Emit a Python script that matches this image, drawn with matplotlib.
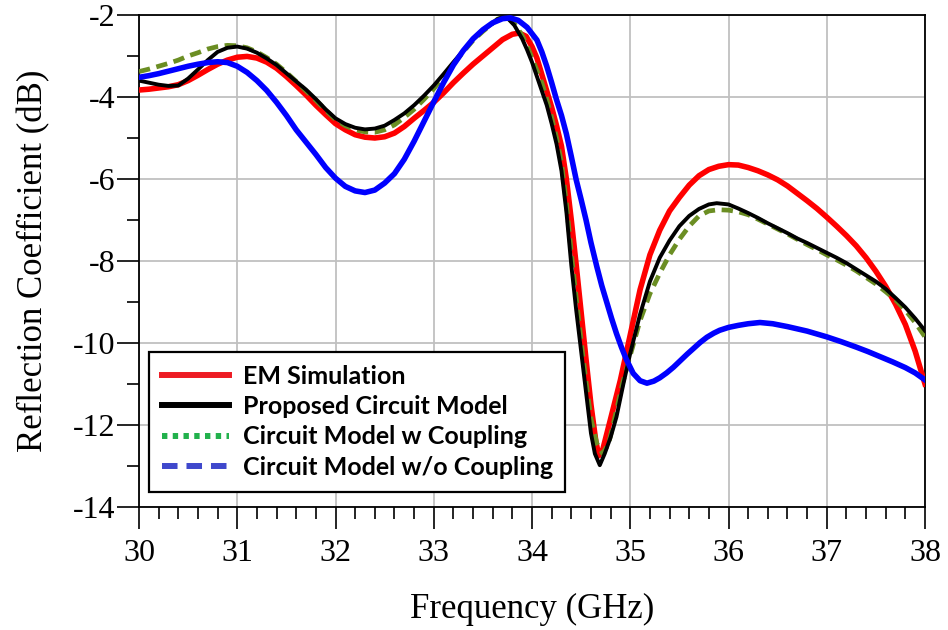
import matplotlib
matplotlib.use("Agg")
import matplotlib.pyplot as plt
from matplotlib.lines import Line2D
from matplotlib.ticker import MultipleLocator

# ---- data ----
em_f = [30.0, 30.1, 30.2, 30.3, 30.4, 30.5, 30.6, 30.7, 30.8, 30.9, 31.0, 31.1, 31.2, 31.3, 31.4,
        31.5, 31.6, 31.7, 31.8, 31.9, 32.0, 32.1, 32.2, 32.3, 32.4, 32.5, 32.6, 32.7, 32.8, 32.9,
        33.0, 33.1, 33.2, 33.3, 33.4, 33.5, 33.6, 33.7, 33.8, 33.87, 33.94, 34.0, 34.05, 34.1,
        34.15, 34.2, 34.25, 34.3, 34.35, 34.4, 34.45, 34.5, 34.55, 34.6, 34.65, 34.68, 34.72,
        34.8, 34.9, 35.0, 35.1, 35.2, 35.3, 35.4, 35.5, 35.6, 35.7, 35.8, 35.9, 36.0, 36.1, 36.2,
        36.3, 36.4, 36.5, 36.6, 36.7, 36.8, 36.9, 37.0, 37.1, 37.2, 37.3, 37.4, 37.5, 37.6, 37.7,
        37.8, 37.9, 38.0]
em_s = [-3.83, -3.81, -3.78, -3.75, -3.7, -3.6, -3.47, -3.33, -3.2, -3.1, -3.03, -3.01, -3.05, -3.15,
        -3.3, -3.5, -3.72, -3.95, -4.2, -4.43, -4.65, -4.8, -4.92, -4.98, -5.0, -4.97, -4.88, -4.72,
        -4.52, -4.33, -4.13, -3.9, -3.65, -3.42, -3.2, -3.0, -2.8, -2.6, -2.47, -2.44, -2.52, -2.77,
        -3.05, -3.45, -3.85, -4.25, -4.7, -5.2, -6.0, -7.0, -8.1, -9.25, -10.4, -11.5, -12.4, -12.75,
        -12.6, -11.85, -10.9, -9.8, -8.7, -7.85, -7.25, -6.78, -6.45, -6.15, -5.92, -5.77, -5.69,
        -5.65, -5.66, -5.72, -5.8, -5.9, -6.02, -6.17, -6.35, -6.53, -6.72, -6.93, -7.15, -7.38,
        -7.63, -7.92, -8.25, -8.62, -9.05, -9.55, -10.2, -11.0]

prop_f = [30.0, 30.1, 30.2, 30.3, 30.4, 30.5, 30.6, 30.7, 30.8, 30.9, 31.0, 31.1, 31.2, 31.3, 31.4,
          31.5, 31.6, 31.7, 31.8, 31.9, 32.0, 32.1, 32.2, 32.3, 32.4, 32.5, 32.6, 32.7, 32.8, 32.9,
          33.0, 33.1, 33.2, 33.3, 33.4, 33.5, 33.6, 33.65, 33.7, 33.76, 33.82, 33.9, 33.95, 34.0,
          34.05, 34.1, 34.15, 34.2, 34.25, 34.3, 34.35, 34.4, 34.45, 34.5, 34.55, 34.6, 34.64,
          34.69, 34.74, 34.8, 34.86, 34.93, 35.0, 35.1, 35.2, 35.3, 35.4, 35.5, 35.6, 35.7, 35.8,
          35.88, 36.0, 36.1, 36.2, 36.3, 36.4, 36.5, 36.6, 36.7, 36.8, 36.9, 37.0, 37.1, 37.2, 37.3,
          37.4, 37.5, 37.6, 37.7, 37.8, 37.9, 38.0]
prop_s = [-3.6, -3.65, -3.7, -3.73, -3.72, -3.55, -3.33, -3.1, -2.9, -2.8, -2.77, -2.82, -2.92, -3.06,
          -3.22, -3.42, -3.62, -3.82, -4.05, -4.3, -4.52, -4.66, -4.75, -4.79, -4.77, -4.7, -4.56,
          -4.4, -4.2, -3.97, -3.72, -3.44, -3.15, -2.87, -2.6, -2.38, -2.2, -2.1, -2.06, -2.1, -2.25,
          -2.58, -2.85, -3.15, -3.5, -3.85, -4.2, -4.65, -5.15, -5.8, -6.8, -8.1, -9.2, -10.2, -11.2,
          -12.2, -12.7, -12.98, -12.7, -12.3, -11.8, -11.0, -10.25, -9.3, -8.5, -7.92, -7.5, -7.15,
          -6.9, -6.73, -6.62, -6.59, -6.62, -6.72, -6.83, -6.95, -7.08, -7.2, -7.32, -7.45, -7.56,
          -7.68, -7.8, -7.92, -8.05, -8.2, -8.35, -8.5, -8.68, -8.9, -9.13, -9.4, -9.7]

wc_f = [30.0, 30.1, 30.2, 30.3, 30.4, 30.5, 30.6, 30.7, 30.8, 30.9, 31.0, 31.1, 31.2, 31.3, 31.4,
        31.5, 31.6, 31.7, 31.8, 31.9, 32.0, 32.1, 32.2, 32.3, 32.4, 32.5, 32.6, 32.7, 32.8, 32.9,
        33.0, 33.1, 33.2, 33.3, 33.4, 33.5, 33.6, 33.65, 33.7, 33.76, 33.82, 33.9, 33.95, 34.0,
        34.05, 34.1, 34.15, 34.2, 34.25, 34.3, 34.35, 34.4, 34.45, 34.5, 34.55, 34.6, 34.66,
        34.72, 34.78, 34.85, 34.92, 35.0, 35.1, 35.2, 35.3, 35.4, 35.5, 35.6, 35.7, 35.8, 35.9,
        36.0, 36.1, 36.2, 36.3, 36.4, 36.5, 36.6, 36.7, 36.8, 36.9, 37.0, 37.1, 37.2, 37.3, 37.4,
        37.5, 37.6, 37.7, 37.8, 37.9, 38.0]
wc_s = [-3.38, -3.32, -3.25, -3.18, -3.1, -3.0, -2.92, -2.83, -2.77, -2.74, -2.75, -2.8, -2.9, -3.04,
        -3.2, -3.4, -3.62, -3.85, -4.08, -4.32, -4.55, -4.7, -4.8, -4.85, -4.86, -4.8, -4.68, -4.5,
        -4.3, -4.06, -3.8, -3.5, -3.2, -2.9, -2.62, -2.4, -2.2, -2.1, -2.06, -2.08, -2.2, -2.5,
        -2.75, -3.05, -3.35, -3.65, -4.05, -4.5, -5.0, -5.6, -6.6, -7.8, -8.9, -9.95, -10.95,
        -11.85, -12.45, -12.7, -12.45, -11.75, -11.0, -10.3, -9.45, -8.8, -8.3, -7.85, -7.47,
        -7.15, -6.9, -6.78, -6.75, -6.76, -6.8, -6.87, -6.98, -7.1, -7.22, -7.34, -7.47, -7.6,
        -7.72, -7.85, -7.97, -8.1, -8.24, -8.4, -8.56, -8.75, -8.95, -9.2, -9.5, -9.85]

woc_f = [30.0, 30.1, 30.2, 30.3, 30.4, 30.5, 30.6, 30.7, 30.8, 30.9, 31.0, 31.1, 31.2, 31.3, 31.4,
         31.5, 31.6, 31.7, 31.8, 31.9, 32.0, 32.1, 32.2, 32.3, 32.4, 32.5, 32.6, 32.7, 32.8, 32.9,
         33.0, 33.1, 33.2, 33.3, 33.4, 33.5, 33.6, 33.7, 33.78, 33.86, 33.95, 34.05, 34.1, 34.15,
         34.2, 34.25, 34.3, 34.35, 34.4, 34.45, 34.5, 34.55, 34.6, 34.66, 34.71, 34.76, 34.81,
         34.86, 34.91, 34.96, 35.03, 35.1, 35.17, 35.24, 35.3, 35.37, 35.44, 35.51, 35.58, 35.65,
         35.71, 35.78, 35.85, 35.91, 36.0, 36.1, 36.2, 36.32, 36.45, 36.6, 36.8, 37.0, 37.15, 37.3,
         37.42, 37.54, 37.67, 37.8, 37.9, 38.0]
woc_s = [-3.52, -3.48, -3.43, -3.37, -3.31, -3.25, -3.2, -3.16, -3.14, -3.16, -3.25, -3.4, -3.6, -3.84,
         -4.13, -4.45, -4.8, -5.1, -5.4, -5.72, -5.98, -6.18, -6.29, -6.33, -6.27, -6.1, -5.87,
         -5.52, -5.08, -4.6, -4.12, -3.65, -3.22, -2.87, -2.58, -2.36, -2.19, -2.09, -2.07, -2.13,
         -2.3, -2.61, -2.9, -3.25, -3.65, -4.07, -4.45, -4.9, -5.45, -6.02, -6.5, -7.0, -7.55,
         -8.14, -8.6, -9.0, -9.4, -9.77, -10.1, -10.4, -10.74, -10.92, -10.98, -10.93, -10.85,
         -10.73, -10.59, -10.43, -10.27, -10.12, -9.99, -9.86, -9.76, -9.69, -9.62, -9.57, -9.53,
         -9.5, -9.53, -9.6, -9.71, -9.85, -9.97, -10.1, -10.21, -10.33, -10.46, -10.6, -10.73, -10.9]

legend_labels = ["EM Simulation", "Proposed Circuit Model",
                 "Circuit Model w Coupling", "Circuit Model w/o Coupling"]
x_ticks = [30, 31, 32, 33, 34, 35, 36, 37, 38]
y_ticks = [-14, -12, -10, -8, -6, -4, -2]

W, H = 948, 630
fig = plt.figure(figsize=(W / 100, H / 100), dpi=100)
ax = fig.add_axes([139 / W, 1 - 507 / H, (925 - 139) / W, (507 - 15) / H])

ax.plot(em_f, em_s, color="#ff0000", lw=4.0, solid_joinstyle="round", zorder=3)
ax.plot(wc_f, wc_s, color="#6b8e23", lw=3.4, linestyle=(0, (2.4, 1.4)), zorder=4)
ax.plot(prop_f, prop_s, color="black", lw=2.8, solid_joinstyle="round", zorder=5)
ax.plot(woc_f, woc_s, color="#0000ff", lw=4.0, solid_joinstyle="round", zorder=6)

ax.set_xlim(30, 38)
ax.set_ylim(-14, -2)
ax.set_xticks(x_ticks)
ax.set_yticks(y_ticks)
ax.set_xticklabels([str(v) for v in x_ticks])
ax.set_yticklabels([str(v) for v in y_ticks])
ax.xaxis.set_minor_locator(MultipleLocator(0.2))
ax.yaxis.set_minor_locator(MultipleLocator(1))
ax.grid(True, which="major", color="#c0c0c0", lw=1.3, zorder=0)
ax.set_axisbelow(True)

ax.tick_params(axis="both", which="major", direction="out", length=16, width=1.2,
               colors="black")
ax.tick_params(axis="x", which="major", pad=7)
ax.tick_params(axis="y", which="major", pad=1)
ax.tick_params(axis="both", which="minor", direction="out", length=8.5, width=1.2)
for t in ax.get_xticklabels() + ax.get_yticklabels():
    t.set_fontfamily("Liberation Serif")
    t.set_fontsize(23)

for s in ax.spines.values():
    s.set_linewidth(1.3)
    s.set_color("black")

ax.set_xlabel("Frequency (GHz)", fontfamily="Liberation Serif", fontsize=25, labelpad=18)
ax.set_ylabel("Reflection Coefficient (dB)", fontfamily="Liberation Serif", fontsize=25,
              labelpad=16)

handles = [
    Line2D([], [], color="#ed1c24", lw=4.3),
    Line2D([], [], color="black", lw=4.3),
    Line2D([], [], color="#22b14c", lw=4.3, linestyle=(0, (0.9, 0.9))),
    Line2D([], [], color="#3f48cc", lw=4.3, linestyle=(0, (2.6, 1.5))),
]
leg = ax.legend(handles, legend_labels, loc="upper left",
                bbox_to_anchor=(149 / W, 1 - 352 / H), bbox_transform=fig.transFigure,
                borderaxespad=0, fancybox=False, frameon=True, framealpha=1,
                edgecolor="black", handlelength=2.7, handletextpad=0.55,
                labelspacing=0.3, borderpad=0.5,
                prop={"family": "Lato", "weight": "bold", "size": 18})
leg.get_frame().set_linewidth(1.6)
leg.set_zorder(10)

fig.savefig("out.png", dpi=100)
